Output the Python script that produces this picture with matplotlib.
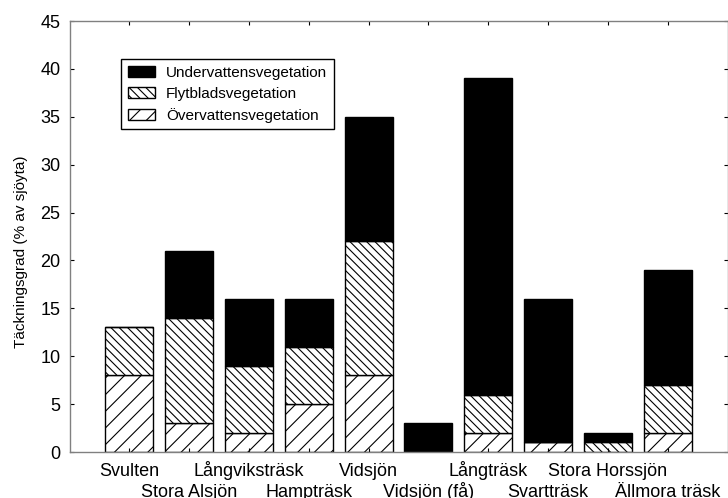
import numpy as np
import matplotlib
matplotlib.use("Agg")
import matplotlib.pyplot as plt

plt.rcParams["font.family"] = ["Liberation Sans", "DejaVu Sans"]
plt.rcParams["hatch.linewidth"] = 0.8

lakes = ["Svulten", "Stora Alsjön", "Långviksträsk", "Hampträsk", "Vidsjön",
         "Vidsjön (få)", "Långträsk", "Svartträsk", "Stora Horssjön", "Ällmora träsk"]
overvatten = [8, 3, 2, 5, 8, 0, 2, 1, 0, 2]
flytblad = [5, 11, 7, 6, 14, 0, 4, 0, 1, 5]
undervatten = [0, 7, 7, 5, 13, 3, 33, 15, 1, 12]
yticks = [0, 5, 10, 15, 20, 25, 30, 35, 40, 45]

W, H, DPI = 728, 498, 100
fig = plt.figure(figsize=(W / DPI, H / DPI), dpi=DPI)
left, right, top, bottom = 69.5, 727.5, 21, 452
ax = fig.add_axes([left / W, 1 - bottom / H, (right - left) / W, (bottom - top) / H])

x = np.arange(1, len(lakes) + 1)
ov = np.array(overvatten, dtype=float)
fl = np.array(flytblad, dtype=float)
un = np.array(undervatten, dtype=float)

b_ov = ax.bar(x, ov, width=0.8, color="white", edgecolor="black", linewidth=1.0,
              hatch="//", label="Övervattensvegetation")
b_fl = ax.bar(x, fl, width=0.8, bottom=ov, color="white", edgecolor="black",
              linewidth=1.0, hatch="\\\\\\\\", label="Flytbladsvegetation")
b_un = ax.bar(x, un, width=0.8, bottom=ov + fl, color="black", edgecolor="black",
              linewidth=1.0, label="Undervattensvegetation")

ax.set_xlim(0, len(lakes) + 1)
ax.set_ylim(0, 45)
ax.set_yticks(yticks)
ax.set_xticks(x)
ax.set_xticklabels([])
ax.tick_params(axis="both", direction="in", length=3, width=0.8, color="black",
               top=True, right=True, labelsize=13, pad=6.5)

for s in ax.spines.values():
    s.set_color("#808080")
    s.set_linewidth(1.0)

# Lake names in two staggered rows below the axis
for i, (xi, name) in enumerate(zip(x, lakes)):
    dy = -24 if i % 2 == 0 else -45
    ax.annotate(name, xy=(xi, 0), xycoords="data", xytext=(0, dy * 0.72),
                textcoords="offset points", ha="center", va="baseline",
                fontsize=13, annotation_clip=False)

fig.text(21 / W, 1 - 252 / H, "Täckningsgrad (% av sjöyta)", rotation=90,
         ha="center", va="center", fontsize=11)

leg = ax.legend(handles=[b_un, b_fl, b_ov], loc="upper left",
                bbox_to_anchor=((121 - left) / (right - left), (bottom - 59) / (bottom - top)),
                borderaxespad=0, fontsize=11, frameon=True, fancybox=False,
                edgecolor="black", framealpha=1, handlelength=1.8, handleheight=0.7,
                handletextpad=0.7, labelspacing=0.45, borderpad=0.45)
leg.get_frame().set_linewidth(1.0)

fig.savefig("out.png", dpi=DPI)
